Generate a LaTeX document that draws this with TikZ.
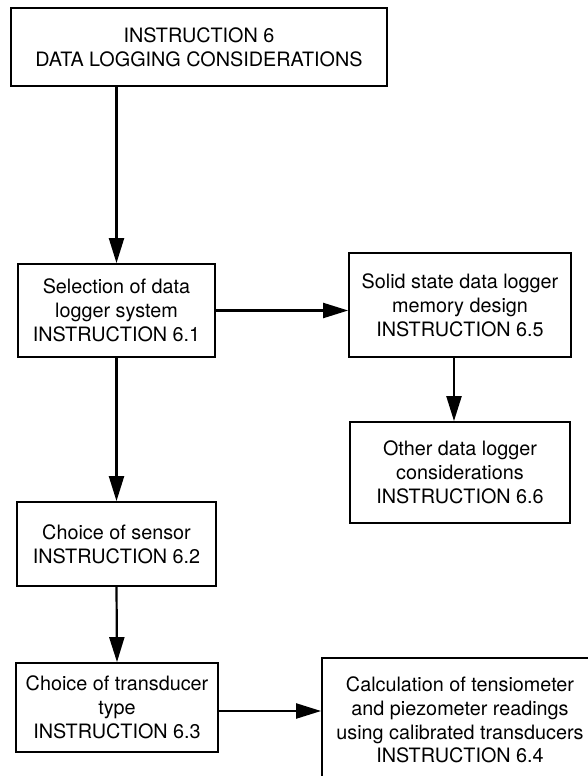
\documentclass[tikz,border=0pt]{standalone}
\usepackage{fontspec}
\setmainfont{TeX Gyre Heros}
\usetikzlibrary{arrows.meta}

\begin{document}
\begin{tikzpicture}[x=1pt, y=-1pt, >={Triangle[length=25pt,width=15pt]},
    box/.style={draw, line width=1.8pt, align=center, inner sep=0pt,
      font=\fontsize{19.8}{23.8}\selectfont},
    link/.style={->, line width=2.2pt}]
  \useasboundingbox (0,0) rectangle (588,776);
  \clip (0,0) rectangle (588,776);

  % Boxes
  \node[box, minimum width=376pt, minimum height=78pt] (top) at (199,47)
    {INSTRUCTION 6\\DATA LOGGING CONSIDERATIONS};
  \node[box, minimum width=197pt, minimum height=93pt] (sel) at (116.5,310.5)
    {Selection of data\\logger system\\INSTRUCTION 6.1};
  \node[box, minimum width=222pt, minimum height=104pt] (mem) at (460,305)
    {Solid state data logger\\memory design\\INSTRUCTION 6.5};
  \node[box, minimum width=220pt, minimum height=101pt] (other) at (460,472.5)
    {Other data logger\\considerations\\INSTRUCTION 6.6};
  \node[box, minimum width=199pt, minimum height=84pt] (sensor) at (116.5,544)
    {Choice of sensor\\INSTRUCTION 6.2};
  \node[box, minimum width=202pt, minimum height=89pt] (trans) at (117,707.5)
    {Choice of transducer\\type\\INSTRUCTION 6.3};
  \node[box, minimum width=276pt, minimum height=124pt] (calc) at (460,720)
    {Calculation of tensiometer\\and piezometer readings\\using calibrated transducers\\INSTRUCTION 6.4};

  % Arrows
  \draw[link] (top.south -| sel.north) -- (sel.north);
  \draw[link] (sel.east) -- (sel.east -| mem.west);
  \draw[link] ([xshift=-6pt]mem.south) -- ([xshift=-6pt]mem.south |- other.north);
  \draw[link] (sel.south) -- (sensor.north);
  \draw[link] (sensor.south) -- (trans.north);
  \draw[link] ([yshift=-3.5pt]trans.east) -- ([yshift=-3.5pt]trans.east -| calc.west);
\end{tikzpicture}
\end{document}
